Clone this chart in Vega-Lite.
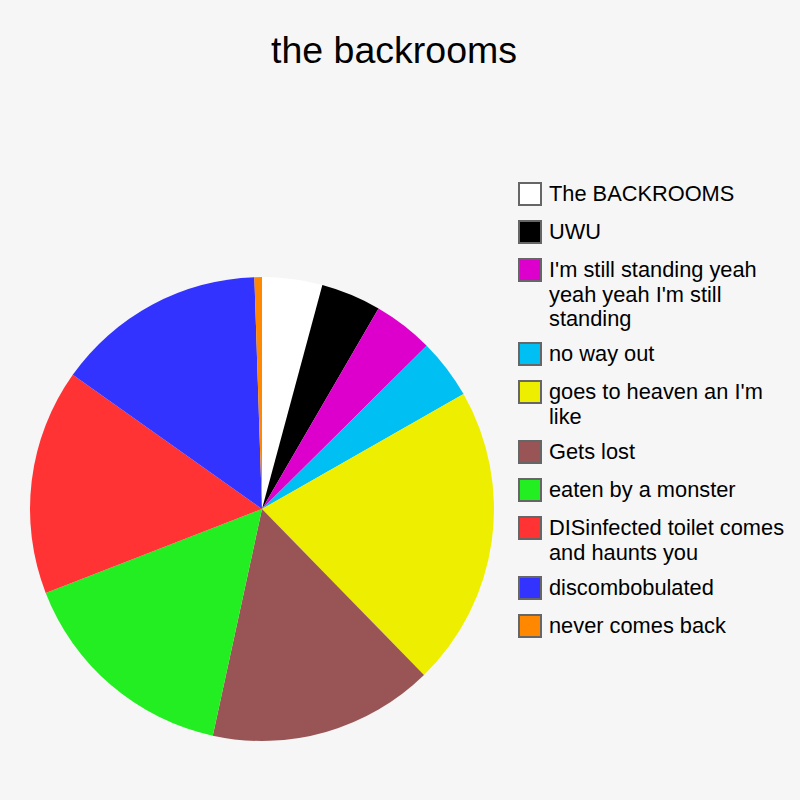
{
  "$schema": "https://vega.github.io/schema/vega-lite/v6.json",
  "background": "#f6f6f6",
  "padding": {"left": 30, "top": 32, "right": 20, "bottom": 60},
  "width": 464,
  "height": 464,
  "title": {
    "text": "the backrooms",
    "fontSize": 37.5,
    "font": "Liberation Sans",
    "fontWeight": "normal",
    "color": "#000000",
    "anchor": "middle",
    "offset": 112,
    "dx": 132
  },
  "data": {
    "values": [
      {"category": "The BACKROOMS", "value": 4, "order": 1},
      {"category": "UWU", "value": 4, "order": 2},
      {"category": "I'm still standing yeah\nyeah yeah I'm still\nstanding", "value": 4, "order": 3},
      {"category": "no way out", "value": 4, "order": 4},
      {"category": "goes to heaven an I'm\nlike", "value": 20, "order": 5},
      {"category": "Gets lost", "value": 15, "order": 6},
      {"category": "eaten by a monster", "value": 15, "order": 7},
      {"category": "DISinfected toilet comes\nand haunts you", "value": 15, "order": 8},
      {"category": "discombobulated", "value": 14, "order": 9},
      {"category": "never comes back", "value": 0.5, "order": 10}
    ]
  },
  "mark": {"type": "arc"},
  "encoding": {
    "theta": {"field": "value", "type": "quantitative", "stack": true},
    "order": {"field": "order", "type": "quantitative", "sort": "ascending"},
    "color": {
      "field": "category",
      "type": "nominal",
      "sort": {"field": "order"},
      "scale": {
        "range": ["#ffffff", "#000000", "#dd00cc", "#00c0f3", "#eeee00", "#995555", "#22ee22", "#ff3333", "#3333ff", "#ff8800"]
      },
      "legend": {
        "title": null,
        "orient": "none",
        "legendX": 488,
        "legendY": -95,
        "symbolType": "square",
        "symbolSize": 484,
        "symbolStrokeWidth": 2,
        "symbolStrokeColor": "#666666",
        "symbolOpacity": 1,
        "rowPadding": 8,
        "labelFont": "Liberation Sans",
        "labelFontSize": 21.8,
        "labelColor": "#000000",
        "labelLimit": 0,
        "labelOffset": 7,
        "labelBaseline": "top",
        "labelExpr": "split(datum.label, '\\n')",
        "encode": {
          "labels": {"update": {"dy": {"value": -10}, "lineHeight": {"value": 24.5}}},
          "symbols": {"update": {"stroke": {"value": "#666666"}, "strokeWidth": {"value": 2}}}
        }
      }
    },
    "tooltip": [
      {"field": "category", "type": "nominal"},
      {"field": "value", "type": "quantitative"}
    ]
  },
  "config": {"view": {"stroke": null}}
}
